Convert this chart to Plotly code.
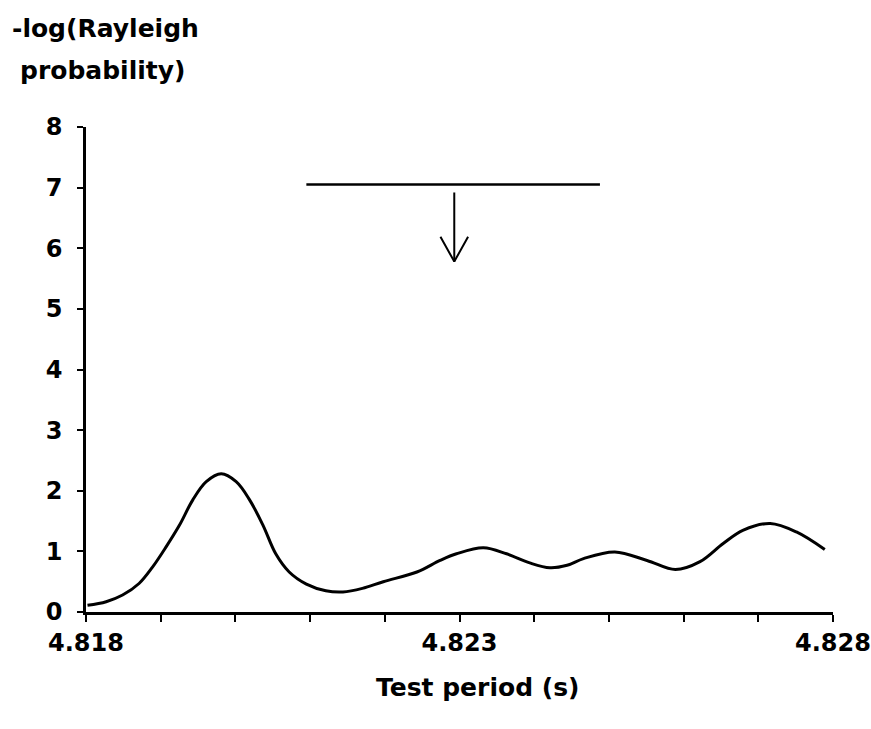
import plotly.graph_objects as go

# ---- data ----
period = [4.81802, 4.81827, 4.81849, 4.81871, 4.81889, 4.81907, 4.81925, 4.81943,
          4.81961, 4.81981, 4.82001, 4.82019, 4.82037, 4.82054, 4.82072, 4.82095,
          4.82121, 4.82144, 4.82170, 4.82198, 4.82243, 4.82274, 4.82296, 4.82332,
          4.82363, 4.82394, 4.82421, 4.82444, 4.82466, 4.82508, 4.82551, 4.82589,
          4.82622, 4.82653, 4.82680, 4.82716, 4.82751, 4.82789]
neg_log_p = [0.11, 0.17, 0.28, 0.47, 0.74, 1.07, 1.43, 1.85,
             2.15, 2.28, 2.15, 1.85, 1.43, 0.96, 0.66, 0.46,
             0.35, 0.33, 0.39, 0.50, 0.66, 0.85, 0.96, 1.06,
             0.96, 0.81, 0.73, 0.77, 0.88, 0.99, 0.85, 0.70,
             0.83, 1.13, 1.35, 1.46, 1.32, 1.03]

# significance level bar and arrow
level_x = [4.82095, 4.82488]
level_y = 7.05
arrow_x = 4.82293
arrow_top = 6.92
arrow_tip = 5.78
arrow_head_dx = 0.000185
arrow_head_dy = 0.41

x_tickvals = [4.818, 4.819, 4.820, 4.821, 4.822, 4.823, 4.824, 4.825, 4.826, 4.827, 4.828]
x_ticktext = ["4.818", "", "", "", "", "4.823", "", "", "", "", "4.828"]
y_tickvals = [0, 1, 2, 3, 4, 5, 6, 7, 8]

FONT = "DejaVu Sans"

fig = go.Figure()
fig.add_trace(go.Scatter(x=period, y=neg_log_p, mode="lines",
                         line=dict(color="black", width=3, shape="spline", smoothing=1.0),
                         hoverinfo="skip"))
fig.add_trace(go.Scatter(x=level_x, y=[level_y, level_y], mode="lines",
                         line=dict(color="black", width=2.5), hoverinfo="skip"))
fig.add_trace(go.Scatter(
    x=[arrow_x, arrow_x, None,
       arrow_x - arrow_head_dx, arrow_x, arrow_x + arrow_head_dx],
    y=[arrow_top, arrow_tip, None,
       arrow_tip + arrow_head_dy, arrow_tip, arrow_tip + arrow_head_dy],
    mode="lines", line=dict(color="black", width=2), hoverinfo="skip"))

fig.update_layout(
    width=871, height=729,
    margin=dict(l=86, r=38, t=127, b=117, autoexpand=False),
    paper_bgcolor="white", plot_bgcolor="white",
    showlegend=False,
    font=dict(family=FONT, size=24, color="black"),
    xaxis=dict(range=[4.818, 4.828], tickvals=x_tickvals, ticktext=x_ticktext,
               automargin=False,
               showgrid=False, zeroline=False, showline=True, linecolor="black",
               linewidth=2.5, ticks="outside", ticklen=7, tickwidth=2, tickcolor="black",
               ticklabelstandoff=0,
               tickfont=dict(family=FONT, size=24, color="black", weight="bold")),
    yaxis=dict(range=[0, 8], tickvals=y_tickvals, automargin=False,
               showgrid=False, zeroline=False, showline=True, linecolor="black",
               linewidth=2.5, ticks="outside", ticklen=6, tickwidth=2, tickcolor="black",
               ticklabelstandoff=10,
               tickfont=dict(family=FONT, size=24, color="black", weight="bold")),
    annotations=[
        dict(text="-log(Rayleigh", xref="paper", yref="paper", x=-0.1017, y=1.204,
             xanchor="left", yanchor="middle", showarrow=False,
             font=dict(family=FONT, size=25, color="black", weight="bold")),
        dict(text="probability)", xref="paper", yref="paper", x=-0.091, y=1.1175,
             xanchor="left", yanchor="middle", showarrow=False,
             font=dict(family=FONT, size=25, color="black", weight="bold")),
        dict(text="Test period (s)", xref="paper", yref="paper", x=0.524, y=-0.155,
             xanchor="center", yanchor="middle", showarrow=False,
             font=dict(family=FONT, size=25, color="black", weight="bold")),
    ],
)

fig.write_html("out.html")
